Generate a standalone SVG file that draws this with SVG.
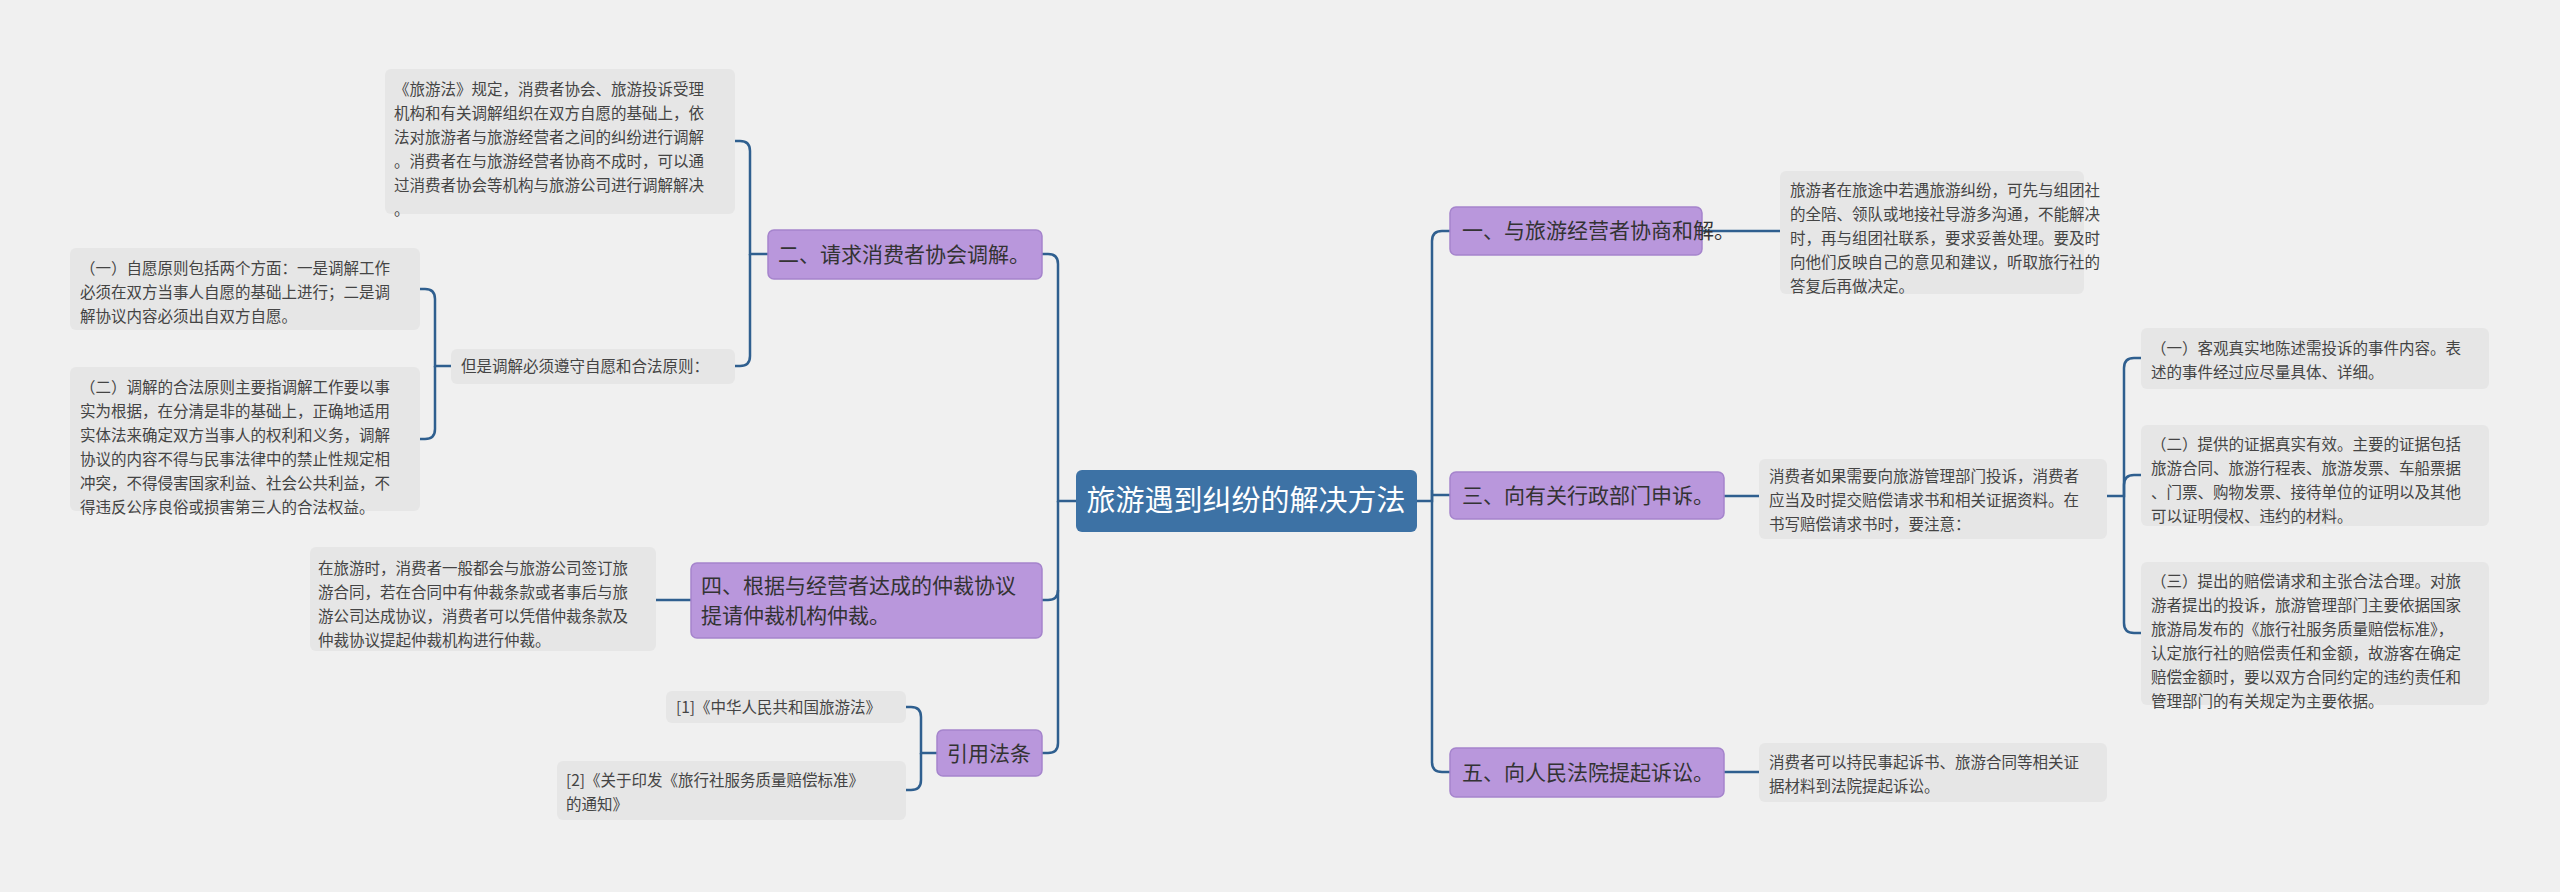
<svg xmlns="http://www.w3.org/2000/svg" width="2560" height="892" viewBox="0 0 2560 892">
<style>
.bg{fill:#f0f0f0}
.c{fill:#3d72a5}
.b{fill:#b997dc;stroke:#a584cc;stroke-width:1.5}
.d{fill:#e6e6e6}
.ct{font-family:"Noto Sans CJK SC",sans-serif;font-size:29px;fill:#fff}
.bt{font-family:"Noto Sans CJK SC",sans-serif;font-size:21px;fill:#333}
.dt{font-family:"Noto Sans CJK SC",sans-serif;font-size:15.5px;fill:#444}
.ln{fill:none;stroke:#2f5f8f;stroke-width:2.5}
</style>
<rect class="bg" width="2560" height="892"/>
<g id="connectors">
<path class="ln" d="M1417 501 H1432 V241 Q1432 231 1442 231 H1450"/>
<path class="ln" d="M1432 495 H1450"/>
<path class="ln" d="M1432 490 V762 Q1432 772 1442 772 H1450"/>
<path class="ln" d="M1702 231 H1780"/>
<path class="ln" d="M1724 496 H1759"/>
<path class="ln" d="M1724 772 H1759"/>
<path class="ln" d="M2107 496 H2124 V368 Q2124 358 2134 358 H2141"/>
<path class="ln" d="M2124 496 V485 Q2124 475 2134 475 H2141"/>
<path class="ln" d="M2124 496 V623 Q2124 633 2134 633 H2141"/>
<path class="ln" d="M1076 501 H1058 V264 Q1058 254 1048 254 H1042"/>
<path class="ln" d="M1058 501 V590 Q1058 600 1048 600 H1042"/>
<path class="ln" d="M1058 590 V743 Q1058 753 1048 753 H1042"/>
<path class="ln" d="M768 254 H750 V151 Q750 141 740 141 H735"/>
<path class="ln" d="M750 254 V356 Q750 366 740 366 H735"/>
<path class="ln" d="M451 366 H435 V299 Q435 289 425 289 H420"/>
<path class="ln" d="M435 366 V429 Q435 439 425 439 H420"/>
<path class="ln" d="M691 600 H656"/>
<path class="ln" d="M937 753 H921 V717 Q921 707 911 707 H906"/>
<path class="ln" d="M921 753 V780 Q921 790 911 790 H906"/>
</g>
<g id="center"><rect class="c" x="1076" y="470" width="341" height="62" rx="6"/><text class="ct" x="1246" y="511" text-anchor="middle">旅游遇到纠纷的解决方法</text></g>
<g id="b1"><rect class="b" x="1450" y="207" width="252" height="48" rx="6"/><text class="bt" x="1462" y="238">一、与旅游经营者协商和解。</text></g>
<g id="d1"><rect class="d" x="1780" y="171" width="304" height="123" rx="6"/><text class="dt"><tspan x="1790" y="196">旅游者在旅途中若遇旅游纠纷，可先与组团社</tspan><tspan x="1790" y="220">的全陪、领队或地接社导游多沟通，不能解决</tspan><tspan x="1790" y="244">时，再与组团社联系，要求妥善处理。要及时</tspan><tspan x="1790" y="268">向他们反映自己的意见和建议，听取旅行社的</tspan><tspan x="1790" y="292">答复后再做决定。</tspan></text></g>
<g id="b3"><rect class="b" x="1450" y="472" width="274" height="47" rx="6"/><text class="bt" x="1462" y="503">三、向有关行政部门申诉。</text></g>
<g id="d3"><rect class="d" x="1759" y="459" width="348" height="80" rx="6"/><text class="dt"><tspan x="1769" y="482">消费者如果需要向旅游管理部门投诉，消费者</tspan><tspan x="1769" y="506">应当及时提交赔偿请求书和相关证据资料。在</tspan><tspan x="1769" y="530">书写赔偿请求书时，要注意：</tspan></text></g>
<g id="s1"><rect class="d" x="2141" y="328" width="348" height="61" rx="6"/><text class="dt"><tspan x="2151" y="354">（一）客观真实地陈述需投诉的事件内容。表</tspan><tspan x="2151" y="378">述的事件经过应尽量具体、详细。</tspan></text></g>
<g id="s2"><rect class="d" x="2141" y="425" width="348" height="101" rx="6"/><text class="dt"><tspan x="2151" y="450">（二）提供的证据真实有效。主要的证据包括</tspan><tspan x="2151" y="474">旅游合同、旅游行程表、旅游发票、车船票据</tspan><tspan x="2151" y="498">、门票、购物发票、接待单位的证明以及其他</tspan><tspan x="2151" y="522">可以证明侵权、违约的材料。</tspan></text></g>
<g id="s3"><rect class="d" x="2141" y="562" width="348" height="143" rx="6"/><text class="dt"><tspan x="2151" y="587">（三）提出的赔偿请求和主张合法合理。对旅</tspan><tspan x="2151" y="611">游者提出的投诉，旅游管理部门主要依据国家</tspan><tspan x="2151" y="635">旅游局发布的《旅行社服务质量赔偿标准》，</tspan><tspan x="2151" y="659">认定旅行社的赔偿责任和金额，故游客在确定</tspan><tspan x="2151" y="683">赔偿金额时，要以双方合同约定的违约责任和</tspan><tspan x="2151" y="707">管理部门的有关规定为主要依据。</tspan></text></g>
<g id="b5"><rect class="b" x="1450" y="748" width="274" height="49" rx="6"/><text class="bt" x="1462" y="780">五、向人民法院提起诉讼。</text></g>
<g id="d5"><rect class="d" x="1759" y="743" width="348" height="59" rx="6"/><text class="dt"><tspan x="1769" y="768">消费者可以持民事起诉书、旅游合同等相关证</tspan><tspan x="1769" y="792">据材料到法院提起诉讼。</tspan></text></g>
<g id="b2"><rect class="b" x="768" y="230" width="274" height="49" rx="6"/><text class="bt" x="778" y="262">二、请求消费者协会调解。</text></g>
<g id="d2"><rect class="d" x="385" y="69" width="350" height="145" rx="6"/><text class="dt"><tspan x="394" y="95">《旅游法》规定，消费者协会、旅游投诉受理</tspan><tspan x="394" y="119">机构和有关调解组织在双方自愿的基础上，依</tspan><tspan x="394" y="143">法对旅游者与旅游经营者之间的纠纷进行调解</tspan><tspan x="394" y="167">。消费者在与旅游经营者协商不成时，可以通</tspan><tspan x="394" y="191">过消费者协会等机构与旅游公司进行调解解决</tspan><tspan x="394" y="215">。</tspan></text></g>
<g id="d2b"><rect class="d" x="451" y="349" width="284" height="35" rx="6"/><text class="dt" x="461" y="372">但是调解必须遵守自愿和合法原则：</text></g>
<g id="p1"><rect class="d" x="70" y="248" width="350" height="82" rx="6"/><text class="dt"><tspan x="80" y="274">（一）自愿原则包括两个方面：一是调解工作</tspan><tspan x="80" y="298">必须在双方当事人自愿的基础上进行；二是调</tspan><tspan x="80" y="322">解协议内容必须出自双方自愿。</tspan></text></g>
<g id="p2"><rect class="d" x="70" y="367" width="350" height="144" rx="6"/><text class="dt"><tspan x="80" y="393">（二）调解的合法原则主要指调解工作要以事</tspan><tspan x="80" y="417">实为根据，在分清是非的基础上，正确地适用</tspan><tspan x="80" y="441">实体法来确定双方当事人的权利和义务，调解</tspan><tspan x="80" y="465">协议的内容不得与民事法律中的禁止性规定相</tspan><tspan x="80" y="489">冲突，不得侵害国家利益、社会公共利益，不</tspan><tspan x="80" y="513">得违反公序良俗或损害第三人的合法权益。</tspan></text></g>
<g id="b4"><rect class="b" x="691" y="563" width="351" height="75" rx="6"/><text class="bt"><tspan x="701" y="593">四、根据与经营者达成的仲裁协议</tspan><tspan x="701" y="623">提请仲裁机构仲裁。</tspan></text></g>
<g id="d4"><rect class="d" x="310" y="547" width="346" height="104" rx="6"/><text class="dt"><tspan x="318" y="574">在旅游时，消费者一般都会与旅游公司签订旅</tspan><tspan x="318" y="598">游合同，若在合同中有仲裁条款或者事后与旅</tspan><tspan x="318" y="622">游公司达成协议，消费者可以凭借仲裁条款及</tspan><tspan x="318" y="646">仲裁协议提起仲裁机构进行仲裁。</tspan></text></g>
<g id="ref"><rect class="b" x="937" y="730" width="105" height="46" rx="6"/><text class="bt" x="989" y="761" text-anchor="middle">引用法条</text></g>
<g id="r1"><rect class="d" x="666" y="691" width="240" height="32" rx="6"/><text class="dt" x="676" y="713">[1]《中华人民共和国旅游法》</text></g>
<g id="r2"><rect class="d" x="557" y="761" width="349" height="59" rx="6"/><text class="dt"><tspan x="566" y="786">[2]《关于印发《旅行社服务质量赔偿标准》</tspan><tspan x="566" y="810">的通知》</tspan></text></g>
</svg>
